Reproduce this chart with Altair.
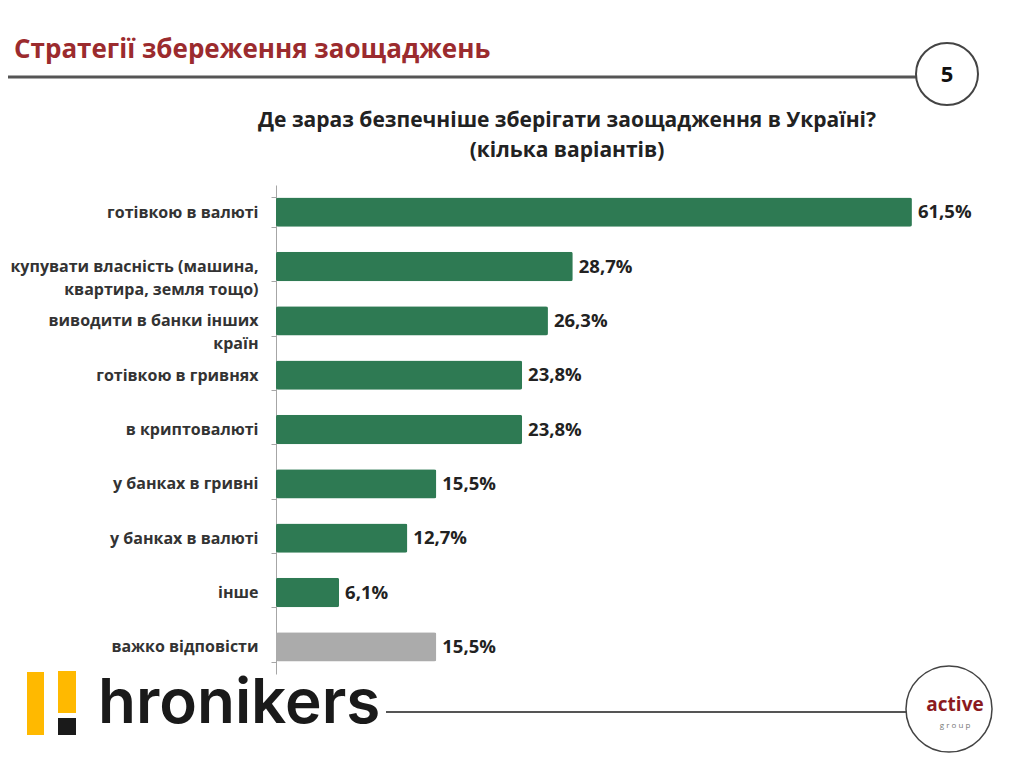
import altair as alt
import pandas as pd

# ---- data ----
categories = [
    "готівкою в валюті",
    "купувати власність (машина,|квартира, земля тощо)",
    "виводити в банки інших|країн",
    "готівкою в гривнях",
    "в криптовалюті",
    "у банках в гривні",
    "у банках в валюті",
    "інше",
    "важко відповісти",
]
values = [61.5, 28.7, 26.3, 23.8, 23.8, 15.5, 12.7, 6.1, 15.5]

title_text = "Стратегії збереження заощаджень"
page_number = "5"
subtitle_lines = ["Де зараз безпечніше зберігати заощадження в Україні?", "(кілька варіантів)"]
brand_left = "hronikers"
brand_right = ["active", "g    r    o    u    p"]

df = pd.DataFrame({"cat": categories, "v": values})

W, H = 700, 489
FONT = "Open Sans"
GREEN = "#2E7A53"
GREY = "#ABABAB"
RED = "#9B2B2E"

one = pd.DataFrame({"a": [0]})

y_enc = alt.Y(
    "cat:N",
    sort=categories,
    scale=alt.Scale(paddingInner=0.46, paddingOuter=0.23),
    axis=alt.Axis(
        title=None,
        labelExpr="split(datum.label, '|')",
        labelFont=FONT,
        labelFontSize=16,
        labelFontWeight="bold",
        labelColor="#333333",
        labelLineHeight=23,
        labelPadding=13,
        labelLimit=300,
        tickBand="extent",
        tickSize=5,
        tickColor="#A6A6A6",
        domainColor="#A6A6A6",
        grid=False,
    ),
)
x_enc = alt.X("v:Q", scale=alt.Scale(domain=[0, W / 10.34], nice=False), axis=None)

bars = alt.Chart(df).mark_bar(cornerRadius=2).encode(
    y=y_enc,
    x=x_enc,
    color=alt.condition(alt.datum.cat == "важко відповісти", alt.value(GREY), alt.value(GREEN)),
)

vals = alt.Chart(df).transform_calculate(
    lab="replace(format(datum.v, '.1f'), '.', ',') + '%'"
).mark_text(align="left", baseline="middle", dx=6, font=FONT, fontSize=18.5,
            fontWeight="bold", color="#222222").encode(
    y=alt.Y("cat:N", sort=categories), x="v:Q", text="lab:N"
)

# ---- decorations (pixel positions relative to plot area; plot left = page x 276, top = page y 185) ----
def px(xp):
    return xp - 276

def py(yp):
    return yp - 185

base = alt.Chart(one)

title = base.mark_text(align="left", baseline="alphabetic", font=FONT, fontSize=26,
                       fontWeight="bold", color=RED, text=title_text).encode(
    x=alt.value(px(14)), y=alt.value(py(58)))

head_line = base.mark_rule(color="#555555", strokeWidth=3).encode(
    x=alt.value(px(0)), x2=alt.value(px(918)), y=alt.value(py(77)))

head_circle = base.mark_point(shape="circle", size=3844, filled=True, fill="white",
                              stroke="#444444", strokeWidth=2, opacity=1).encode(
    x=alt.value(px(947)), y=alt.value(py(74)))

head_num = base.mark_text(align="center", baseline="middle", font=FONT, fontSize=22,
                          fontWeight="bold", color="#111111", text=page_number).encode(
    x=alt.value(px(947)), y=alt.value(py(75)))

sub1 = base.mark_text(align="center", baseline="alphabetic", font=FONT, fontSize=21,
                      fontWeight="bold", color="#222222", text=subtitle_lines[0]).encode(
    x=alt.value(px(567)), y=alt.value(py(127)))
sub2 = base.mark_text(align="center", baseline="alphabetic", font=FONT, fontSize=21,
                      fontWeight="bold", color="#222222", text=subtitle_lines[1]).encode(
    x=alt.value(px(567)), y=alt.value(py(157)))

# footer logo
logo_y1 = base.mark_rect(color="#FFB900").encode(
    x=alt.value(px(27)), x2=alt.value(px(44)), y=alt.value(py(672)), y2=alt.value(py(735)))
logo_y2 = base.mark_rect(color="#FFB900").encode(
    x=alt.value(px(58)), x2=alt.value(px(76)), y=alt.value(py(671)), y2=alt.value(py(713)))
logo_b = base.mark_rect(color="#1A1A1A").encode(
    x=alt.value(px(58)), x2=alt.value(px(76)), y=alt.value(py(718)), y2=alt.value(py(735)))

brand = base.mark_text(align="left", baseline="alphabetic", font="Inter", fontSize=62,
                       fontWeight=600, color="#1A1A1A", text=brand_left).encode(
    x=alt.value(px(98)), y=alt.value(py(723)))

foot_line = base.mark_rule(color="#555555", strokeWidth=2).encode(
    x=alt.value(px(386)), x2=alt.value(px(908)), y=alt.value(py(712)))

foot_circle = base.mark_point(shape="circle", size=7400, filled=True, fill="white",
                              stroke="#444444", strokeWidth=1.5, opacity=1).encode(
    x=alt.value(px(949)), y=alt.value(py(709)))

active = base.mark_text(align="center", baseline="alphabetic", font=FONT, fontSize=19,
                        fontWeight="bold", color="#8B1A1E", text=brand_right[0]).encode(
    x=alt.value(px(955)), y=alt.value(py(711)))
group = base.mark_text(align="center", baseline="alphabetic", font=FONT, fontSize=8,
                       color="#777777", text=brand_right[1]).encode(
    x=alt.value(px(955)), y=alt.value(py(728)))

chart = alt.layer(
    bars, vals, title, head_line, head_circle, head_num, sub1, sub2,
    logo_y1, logo_y2, logo_b, brand, foot_line, foot_circle, active, group,
).properties(
    width=W, height=H,
    autosize=alt.AutoSizeParams(type="none"),
    padding={"left": 268, "top": 177, "right": 40, "bottom": 83},
    background="white",
).configure_view(stroke=None)

chart.save("out.html", embed_options={"renderer": "svg", "actions": False})
